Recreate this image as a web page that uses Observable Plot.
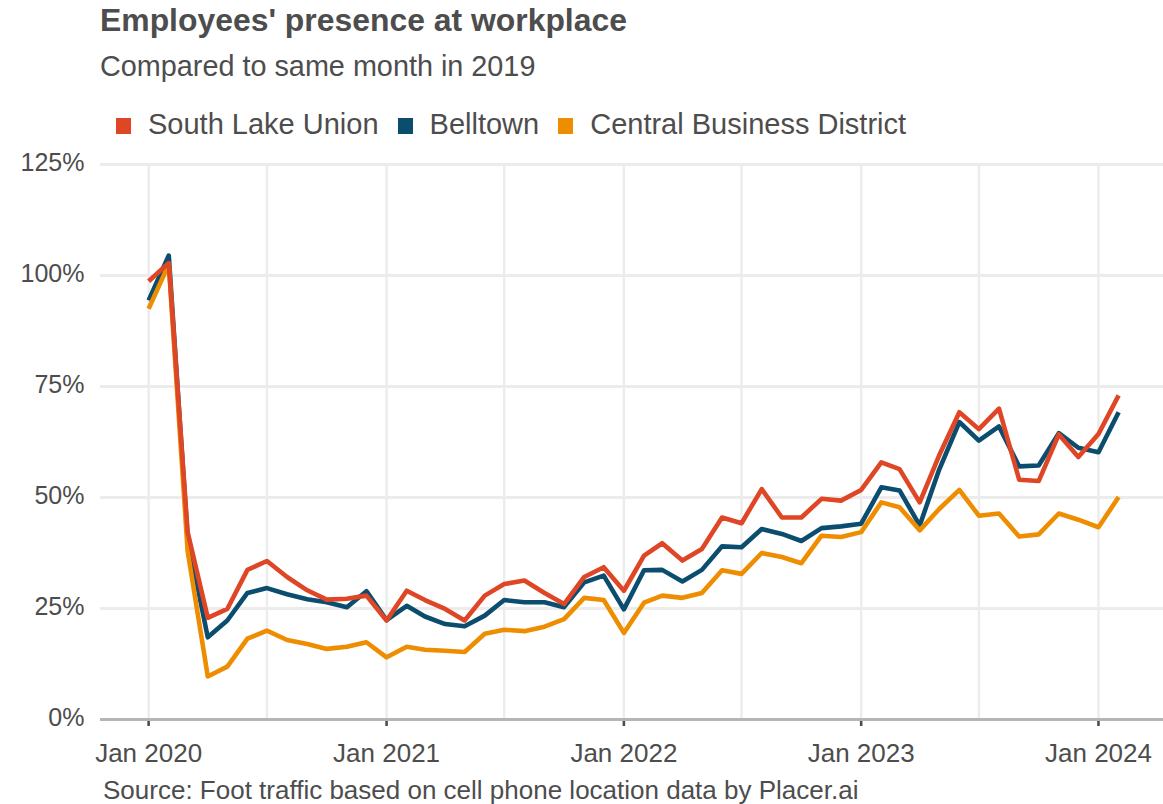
<!DOCTYPE html>
<html>
<head>
<meta charset="utf-8">
<script src="https://cdn.jsdelivr.net/npm/d3@7"></script>
<script src="https://cdn.jsdelivr.net/npm/@observablehq/plot@0.6"></script>
<style>
  body { margin: 0; background: #fff; font-family: "Liberation Sans", Arial, sans-serif; color: #4d4d4d; }
  #wrap { position: relative; width: 1163px; height: 804px; overflow: hidden; background: #fff; }
  .t { position: absolute; line-height: 1; white-space: nowrap; }
  #title { left: 100px; top: 5px; font-size: 31.9px; font-weight: bold; color: #4d4d4d; }
  #subtitle { left: 100px; top: 51.6px; font-size: 28.8px; color: #4d4d4d; }
  #legend { left: 116px; top: 109.5px; font-size: 29px; display: flex; align-items: center; }
  #legend .item { display: flex; align-items: center; margin-right: 19px; }
  #legend .sw { width: 15px; height: 16px; margin-right: 17px; position: relative; top: 2px; }
  #caption { left: 103px; top: 777px; font-size: 26px; color: #4d4d4d; }
  #chart { position: absolute; left: 0; top: 145px; }
</style>
</head>
<body>
<div id="wrap">
  <div class="t" id="title">Employees' presence at workplace</div>
  <div class="t" id="subtitle">Compared to same month in 2019</div>
  <div class="t" id="legend"></div>
  <div id="chart"></div>
  <div class="t" id="caption">Source: Foot traffic based on cell phone location data by Placer.ai</div>
</div>
<script>
const months = [
  "2020-01","2020-02","2020-03","2020-04","2020-05","2020-06","2020-07","2020-08","2020-09","2020-10","2020-11","2020-12",
  "2021-01","2021-02","2021-03","2021-04","2021-05","2021-06","2021-07","2021-08","2021-09","2021-10","2021-11","2021-12",
  "2022-01","2022-02","2022-03","2022-04","2022-05","2022-06","2022-07","2022-08","2022-09","2022-10","2022-11","2022-12",
  "2023-01","2023-02","2023-03","2023-04","2023-05","2023-06","2023-07","2023-08","2023-09","2023-10","2023-11","2023-12",
  "2024-01","2024-02"
];
const seriesNames = ["South Lake Union", "Belltown", "Central Business District"];
const seriesColors = ["#df4626", "#0b4d6e", "#ef8d00"];

const southLakeUnion = [
  98.7,102.8,42.2,22.9,24.9,33.7,35.7,32.1,29.1,27.0,27.2,27.9,
  22.3,29.0,26.9,24.9,22.3,27.9,30.5,31.3,28.5,26.0,32.1,34.3,
  29.0,36.9,39.7,35.8,38.4,45.5,44.2,51.9,45.5,45.5,49.7,49.3,
  51.7,57.9,56.4,48.9,59.5,69.2,65.4,70.0,54.0,53.7,64.2,59.1,
  64.3,73.0
];
const belltown = [
  94.4,104.5,41.0,18.5,22.3,28.5,29.6,28.2,27.1,26.4,25.3,28.9,
  22.4,25.6,23.2,21.5,21.0,23.4,26.9,26.4,26.4,25.3,30.9,32.4,
  24.8,33.6,33.7,31.1,33.7,39.0,38.8,42.9,41.8,40.2,43.1,43.5,
  44.1,52.3,51.6,43.7,56.3,67.0,62.8,66.0,57.0,57.2,64.5,61.2,
  60.2,69.2
];
const centralBusinessDistrict = [
  92.5,102.5,38.0,9.7,11.9,18.2,20.0,17.9,17.0,15.9,16.4,17.4,
  14.0,16.4,15.7,15.5,15.2,19.3,20.2,19.9,20.9,22.6,27.4,26.9,
  19.5,26.3,27.9,27.4,28.5,33.6,32.8,37.5,36.6,35.2,41.4,41.1,
  42.2,48.9,47.8,42.6,47.4,51.7,45.9,46.4,41.2,41.7,46.4,45.0,
  43.3,50.1
];

const yTicks = [0, 25, 50, 75, 100, 125];
const yearTicks = ["2020-01-01","2021-01-01","2022-01-01","2023-01-01","2024-01-01"];
const gridTicks = ["2020-01-01","2020-07-01","2021-01-01","2021-07-01","2022-01-01","2022-07-01",
                   "2023-01-01","2023-07-01","2024-01-01"];

const valuesBySeries = {
  "South Lake Union": southLakeUnion,
  "Belltown": belltown,
  "Central Business District": centralBusinessDistrict
};
// drawing order: Belltown, CBD, then South Lake Union on top
const drawOrder = ["Belltown", "Central Business District", "South Lake Union"];
const rows = [];
for (const s of drawOrder) {
  valuesBySeries[s].forEach((v, i) => rows.push({ date: new Date(months[i] + "-01T00:00:00Z"), value: v, series: s }));
}
const toDate = s => new Date(s + "T00:00:00Z");

// Legend
const legend = document.getElementById("legend");
seriesNames.forEach((n, i) => {
  const it = document.createElement("div");
  it.className = "item";
  it.innerHTML = `<span class="sw" style="background:${seriesColors[i]}"></span><span>${n}</span>`;
  legend.appendChild(it);
});

const chart = Plot.plot({
  width: 1163,
  height: 630,
  marginTop: 19,
  marginBottom: 56,
  marginLeft: 100,
  marginRight: 0,
  style: { fontFamily: "'Liberation Sans', Arial, sans-serif", color: "#4d4d4d", background: "transparent" },
  x: { type: "utc", domain: [toDate("2019-10-19"), toDate("2024-04-10")], label: null },
  y: { domain: [0, 125], label: null },
  color: { domain: seriesNames, range: seriesColors },
  marks: [
    Plot.gridY(yTicks, { stroke: "#ececec", strokeOpacity: 1, strokeWidth: 2.8 }),
    Plot.gridX(gridTicks.map(toDate), { stroke: "#ececec", strokeOpacity: 1, strokeWidth: 2.4 }),
    Plot.axisY(yTicks, { label: null, tickSize: 0, tickPadding: 16, tickFormat: d => d + "%", fontSize: 25, fill: "#4d4d4d", dy: -2 }),
    Plot.axisX(yearTicks.map(toDate), { label: null, tickSize: 7, tickPadding: 17, strokeWidth: 2.6, stroke: "#4d4d4d",
      tickFormat: d => "Jan " + d.getUTCFullYear(), fontSize: 26, fill: "#4d4d4d" }),
    Plot.ruleY([0], { stroke: "#b5b5b5", strokeWidth: 3 }),
    Plot.line(rows, { x: "date", y: "value", z: "series", stroke: "series", strokeWidth: 4.6,
      strokeLinecap: "butt", strokeLinejoin: "round" })
  ]
});
document.getElementById("chart").appendChild(chart);
</script>
</body>
</html>
